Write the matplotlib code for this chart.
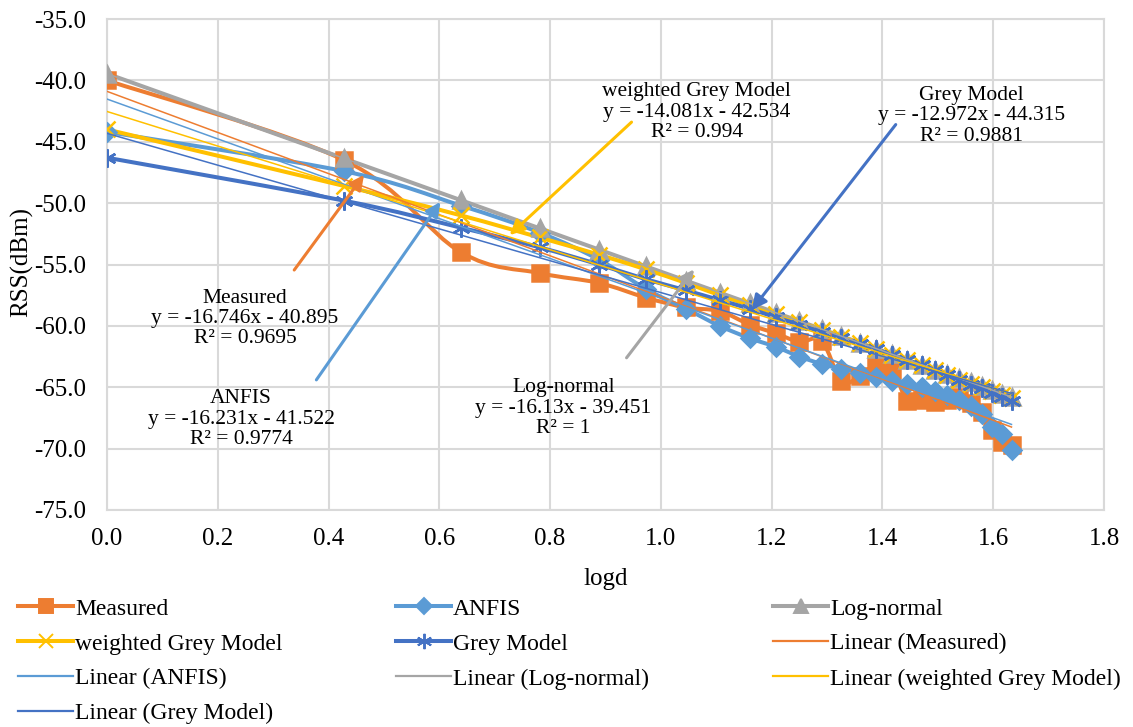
import numpy as np
import matplotlib
matplotlib.use("Agg")
import matplotlib.pyplot as plt
from matplotlib.path import Path
from matplotlib.patches import PathPatch
from matplotlib.lines import Line2D

plt.rcParams['font.family'] = ['Liberation Serif', 'DejaVu Serif']
FS = 15.5      # equation labels
FS_AX = 18     # ticks and axis titles
FS_LEG = 17    # legend

# logd values (d = 1 ... 43 m)
logd = [0.000, 0.428, 0.639, 0.781, 0.888, 0.973, 1.045, 1.106, 1.160, 1.207,
        1.250, 1.290, 1.326, 1.359, 1.389, 1.418, 1.445, 1.471, 1.495, 1.517,
        1.539, 1.560, 1.579, 1.598, 1.616, 1.633]

measured = [-40.0, -46.5, -54.0, -55.7, -56.5, -57.7, -58.5, -58.8, -59.9, -60.6,
            -61.3, -61.2, -64.5, -64.1, -63.1, -63.6, -66.1, -66.0, -66.2, -66.0,
            -65.8, -66.3, -67.0, -68.5, -69.5, -69.7]
anfis = [-44.2, -47.4, -50.2, -52.4, -54.6, -57.0, -58.6, -60.0, -61.0, -61.7,
         -62.5, -63.1, -63.5, -63.8, -64.2, -64.5, -64.7, -65.0, -65.3, -65.6,
         -66.0, -66.5, -67.2, -68.2, -68.8, -70.1]
log_normal = [-39.45, -46.36, -49.76, -52.05, -53.78, -55.15, -56.31, -57.29, -58.16, -58.92,
              -59.61, -60.26, -60.84, -61.37, -61.86, -62.32, -62.76, -63.18, -63.57, -63.92,
              -64.28, -64.61, -64.92, -65.23, -65.52, -65.79]
wgm = [-44.0, -48.6, -51.0, -52.8, -54.2, -55.4, -56.5, -57.5, -58.3, -59.0,
       -59.7, -60.3, -60.9, -61.4, -61.9, -62.4, -62.8, -63.2, -63.6, -64.0,
       -64.4, -64.7, -65.0, -65.3, -65.6, -65.9]
grey = [-46.3, -49.8, -52.0, -53.6, -55.0, -56.2, -57.1, -57.9, -58.6, -59.3,
        -59.9, -60.5, -61.0, -61.5, -61.9, -62.4, -62.8, -63.2, -63.6, -64.0,
        -64.4, -64.8, -65.1, -65.5, -65.8, -66.1]

names = ['Measured', 'ANFIS', 'Log-normal', 'weighted Grey Model', 'Grey Model']
series = [measured, anfis, log_normal, wgm, grey]
colors = ['#ED7D31', '#5B9BD5', '#A5A5A5', '#FFC000', '#4472C4']
markers = ['s', 'D', '^', 'x', (6, 2, 0)]
msizes = [12, 9, 12, 12, 13]

# trendline coefficients (slope, intercept, R2)
slopes = [-16.746, -16.231, -16.13, -14.081, -12.972]
intercepts = [-40.895, -41.522, -39.451, -42.534, -44.315]
r2 = ['0.9695', '0.9774', '1', '0.994', '0.9881']


def smooth_path(x, y):
    pts = np.column_stack([x, y])
    n = len(pts)
    verts = [pts[0]]
    codes = [Path.MOVETO]
    for i in range(n - 1):
        p0 = pts[i - 1] if i > 0 else pts[i]
        p1, p2 = pts[i], pts[i + 1]
        p3 = pts[i + 2] if i + 2 < n else pts[i + 1]
        verts += [p1 + (p2 - p0) / 6, p2 - (p3 - p1) / 6, p2]
        codes += [Path.CURVE4] * 3
    return Path(verts, codes)


fig = plt.figure(figsize=(11.33, 7.27), dpi=100)
ax = fig.add_axes([107 / 1133, 1 - 510 / 727, 997 / 1133, 491 / 727])

for s, c, m, ms in zip(series, colors, markers, msizes):
    ax.add_patch(PathPatch(smooth_path(logd, s), fill=False, edgecolor=c, lw=2.9, zorder=3))
    ax.plot(logd, s, linestyle='none', marker=m, markersize=ms, color=c,
            markeredgecolor=c, markeredgewidth=1.8, zorder=4)

xfit = np.array([logd[0], logd[-1]])
for k, b, c in zip(slopes, intercepts, colors):
    ax.plot(xfit, k * xfit + b, color=c, lw=1.1, zorder=5)

# equation labels and arrows
labels = [(0.249, -59.4), (0.242, -67.6), (0.824, -66.7), (1.065, -42.6), (1.56, -42.9)]
arrows = [((0.338, -55.45), (0.464, -47.7)),
          ((0.378, -64.4), (0.602, -49.9)),
          ((0.938, -62.6), (1.06, -55.4)),
          ((0.947, -43.4), (0.727, -52.6)),
          ((1.424, -43.6), (1.164, -58.7))]
for i in range(5):
    txt = f'{names[i]}\ny = {slopes[i]}x - {-intercepts[i]}\nR² = {r2[i]}'
    ax.text(labels[i][0], labels[i][1], txt, ha='center', va='center',
            fontsize=FS, linespacing=1.1, zorder=7)
    (x0, y0), (x1, y1) = arrows[i]
    ax.annotate('', xy=(x1, y1), xytext=(x0, y0),
                arrowprops=dict(arrowstyle='-|>', color=colors[i], lw=2.2,
                                mutation_scale=22, shrinkA=0, shrinkB=0), zorder=6)

ax.set_xlim(0, 1.8)
ax.set_ylim(-75, -35)
ax.set_xticks(np.arange(0, 1.81, 0.2))
ax.set_yticks(np.arange(-75, -34, 5))
ax.xaxis.set_major_formatter(matplotlib.ticker.FormatStrFormatter('%.1f'))
ax.yaxis.set_major_formatter(matplotlib.ticker.FormatStrFormatter('%.1f'))
ax.tick_params(length=0, labelsize=FS_AX)
ax.tick_params(axis='x', pad=13)
ax.tick_params(axis='y', pad=15)
ax.grid(True, color='#D9D9D9', lw=1.5, zorder=0)
ax.set_axisbelow(True)
for sp in ax.spines.values():
    sp.set_color('#D9D9D9')
    sp.set_linewidth(1.5)
ax.set_xlabel('logd', fontsize=FS_AX)
ax.set_ylabel('RSS(dBm)', fontsize=FS_AX)
ax.xaxis.set_label_coords(0.5, -0.118)
ax.yaxis.set_label_coords(-0.074, 0.505)

# legend, three columns
handles = []
for n, c, m, ms in zip(names, colors, markers, msizes):
    handles.append(Line2D([], [], color=c, lw=2.9, marker=m, markersize=ms * 0.85,
                          markeredgewidth=1.4, label=n))
for n, c in zip(names, colors):
    handles.append(Line2D([], [], color=c, lw=1.6, label=f'Linear ({n})'))
cols = [[0, 3, 6, 9], [1, 4, 7], [2, 5, 8]]
xs = [18, 396, 773]
for idx, xp in zip(cols, xs):
    fig.legend([handles[i] for i in idx], [handles[i].get_label() for i in idx],
               loc='upper left', bbox_to_anchor=(xp / 1133, 1 - 598 / 727),
               frameon=False, fontsize=FS_LEG, handlelength=2.33, handletextpad=0.08,
               labelspacing=0.57, borderpad=0, borderaxespad=0)

fig.savefig('out.png', dpi=100)
